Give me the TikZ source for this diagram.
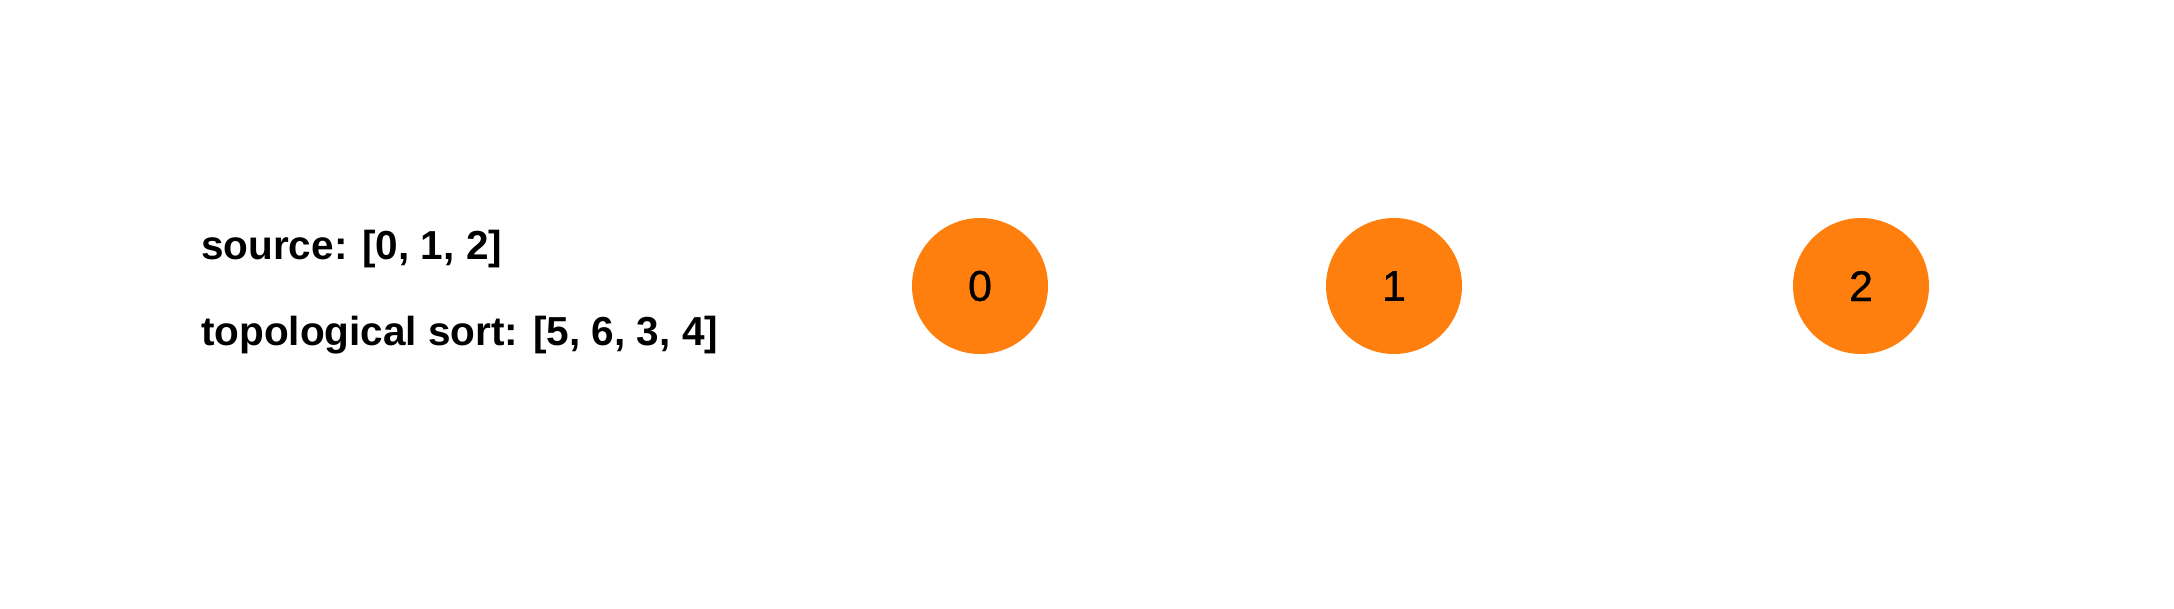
\documentclass[tikz,border=0pt]{standalone}
\usepackage{fontspec}
\setmainfont{Liberation Sans}
\newfontfamily\digitfont[FakeBold=0.8]{Liberation Sans}
\definecolor{taborange}{HTML}{FF7F0E}
\begin{document}
\begin{tikzpicture}[x=1pt,y=-1pt,
  vertex/.style={circle,fill=taborange,draw=none,minimum size=136pt,inner sep=0pt,
    font=\digitfont\fontsize{43}{50}\selectfont,text=black},
  info/.style={anchor=base west,inner sep=0pt,font=\bfseries\fontsize{40.5}{48}\selectfont}]
  \useasboundingbox (0,0) rectangle (2174,608);
  \node[info] (src) at (201,259) {source: [0, 1, 2]};
  \node[info] (topo) at (201,345) {topological sort: [5, 6, 3, 4]};
  \node[vertex] (n0) at (980,286) {0};
  \node[vertex] (n1) at (1394,286) {1};
  \node[vertex] (n2) at (1861,286) {2};
\end{tikzpicture}
\end{document}
